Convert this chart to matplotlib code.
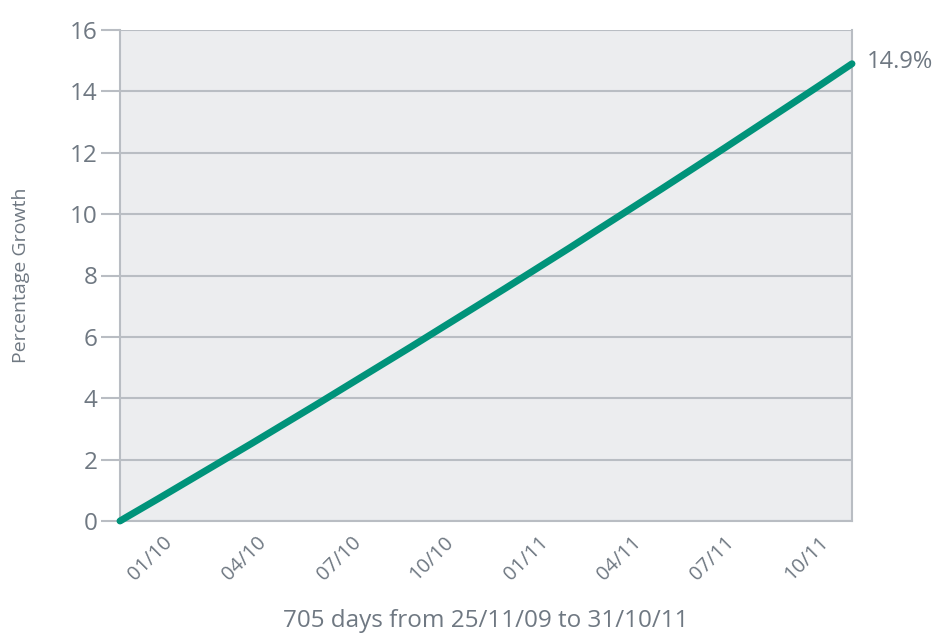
import matplotlib
matplotlib.use("Agg")
import matplotlib.pyplot as plt

# Data (days since 25/11/09, percentage growth)
days = [0, 6, 37, 68, 96, 127, 157, 188, 218, 249, 280, 310, 341, 371, 402,
        433, 461, 492, 522, 553, 583, 614, 645, 675, 705]
growth = [0, 0.12, 0.73, 1.35, 1.91, 2.53, 3.14, 3.77, 4.39, 5.03, 5.67, 6.30,
          6.95, 7.58, 8.24, 8.90, 9.51, 10.18, 10.83, 11.51, 12.17, 12.86,
          13.55, 14.22, 14.9]
xtick_days = [29, 120, 211, 300, 391, 481, 571, 661]
xtick_labels = ["01/10", "04/10", "07/10", "10/10", "01/11", "04/11", "07/11", "10/11"]
yticks = [0, 2, 4, 6, 8, 10, 12, 14, 16]
end_label = "14.9%"

plt.rcParams['font.family'] = ['Open Sans', 'DejaVu Sans']
text_c = "#6f7882"
grid_c = "#b9bdc3"
line_c = "#00937a"

fig = plt.figure(figsize=(9.34, 6.37), dpi=100)
ax = fig.add_axes([120/934, 1 - 521/637, (852-120)/934, (521-30)/637])
ax.set_facecolor("#ecedef")

ax.plot(days, growth, color=line_c, lw=5.0, solid_capstyle='round',
        solid_joinstyle='round', zorder=3, clip_on=False)
ax.annotate(end_label, (days[-1], growth[-1]), xytext=(11, 1),
            textcoords='offset points', ha='left', va='center',
            fontsize=17, color=text_c)

ax.set_xlim(0, 705)
ax.set_ylim(0, 16)
ax.set_yticks(yticks)
ax.yaxis.grid(True, color=grid_c, lw=1.5)
ax.set_axisbelow(True)
ax.tick_params(axis='y', length=14, width=1.5, color=grid_c, pad=2,
               labelsize=17.5, labelcolor=text_c)
ax.set_xticks(xtick_days)
ax.set_xticklabels(xtick_labels, rotation=45, ha='center', va='top')
ax.tick_params(axis='x', length=0, pad=8, labelsize=14.5, labelcolor=text_c)
for s in ax.spines.values():
    s.set_color(grid_c)
    s.set_linewidth(1.5)
ax.spines['top'].set_visible(False)

ax.set_xlabel("705 days from 25/11/09 to 31/10/11", fontsize=17.5, color=text_c,
              labelpad=18)
ax.set_ylabel("Percentage Growth", fontsize=14, color=text_c, labelpad=29)

fig.savefig("out.png", dpi=100)
